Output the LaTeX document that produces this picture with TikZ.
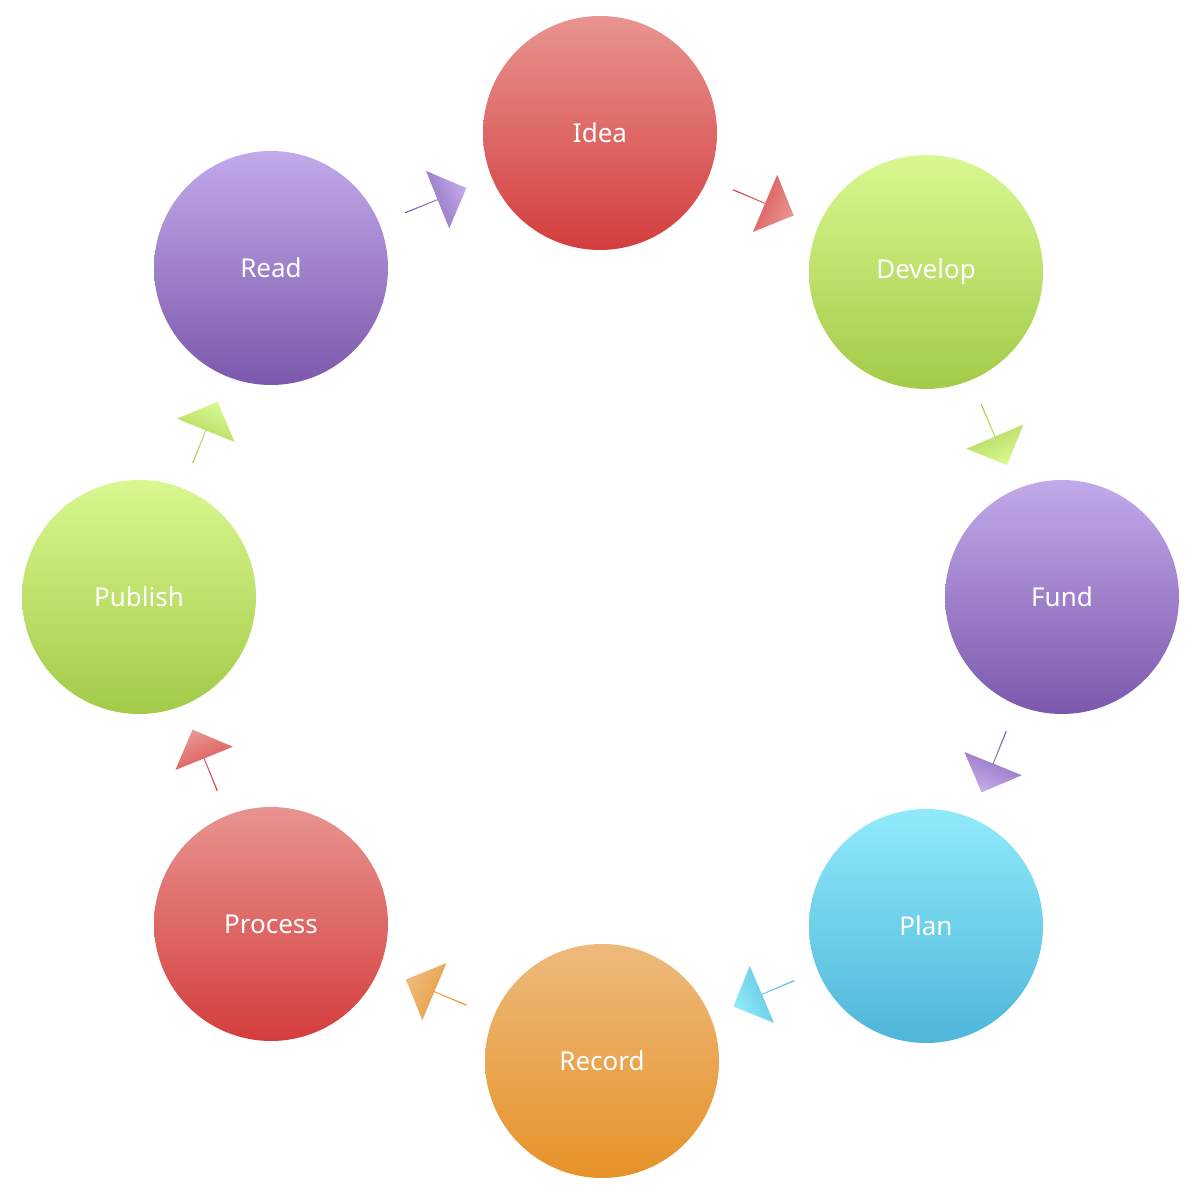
\documentclass[tikz,border=0pt]{standalone}
\usepackage{fontspec}
\setmainfont{Noto Sans}
\usetikzlibrary{shapes.arrows,calc,shadows}
\definecolor{rT}{HTML}{E89490}\definecolor{rB}{HTML}{D43D3D}
\definecolor{gT}{HTML}{D8F890}\definecolor{gB}{HTML}{A3CA48}
\definecolor{pT}{HTML}{C2AAEA}\definecolor{pB}{HTML}{7C58AC}
\definecolor{bT}{HTML}{90EAFA}\definecolor{bB}{HTML}{4EB6DA}
\definecolor{oT}{HTML}{EDBA7C}\definecolor{oB}{HTML}{E69228}
\tikzset{
 stage/.style n args={2}{circle,minimum size=234pt,inner sep=0pt,top color=#1,bottom color=#2,draw=none,
   text=white,font=\fontsize{26}{30}\selectfont\bfseries},
 step/.style n args={3}{single arrow,minimum height=66pt,minimum width=62pt,single arrow head extend=11pt,
   inner sep=0pt,rotate=#3,left color=#2,right color=#1,draw=none,shading angle=#3+90}
}
\begin{document}
\begin{tikzpicture}[x=1pt,y=1pt]
\useasboundingbox (0,0) rectangle (1200,1200);
\node[stage={rT}{rB}] (idea) at (600,1067) {Idea};
\node[stage={gT}{gB}] (dev) at (926,928) {Develop};
\node[stage={pT}{pB}] (fund) at (1062,603) {Fund};
\node[stage={bT}{bB}] (plan) at (926,274) {Plan};
\node[stage={oT}{oB}] (rec) at (602,139) {Record};
\node[stage={rT}{rB}] (proc) at (271,276) {Process};
\node[stage={gT}{gB}] (pub) at (139,603) {Publish};
\node[stage={pT}{pB}] (read) at (271,932) {Read};
\node[step={rT}{rB}{-23}] (a1) at ($(idea)!0.5!(dev)$) {};
\node[step={gT}{gB}{-67}] (a2) at ($(dev)!0.5!(fund)$) {};
\node[step={pT}{pB}{-112}] (a3) at ($(fund)!0.5!(plan)$) {};
\node[step={bT}{bB}{-157}] (a4) at ($(plan)!0.5!(rec)$) {};
\node[step={oT}{oB}{157}] (a5) at ($(rec)!0.5!(proc)$) {};
\node[step={rT}{rB}{112}] (a6) at ($(proc)!0.5!(pub)$) {};
\node[step={gT}{gB}{68}] (a7) at ($(pub)!0.5!(read)$) {};
\node[step={pT}{pB}{22}] (a8) at ($(read)!0.5!(idea)$) {};
\end{tikzpicture}
\end{document}
